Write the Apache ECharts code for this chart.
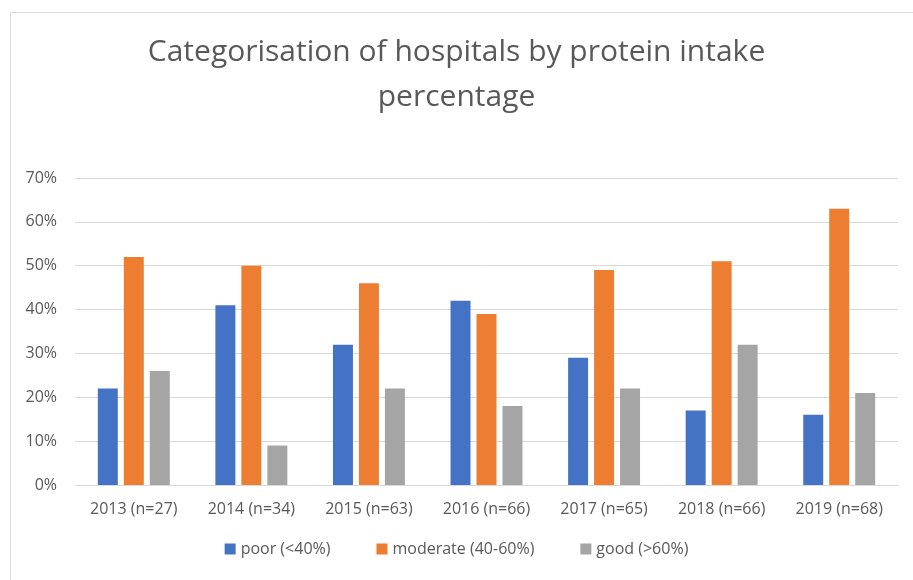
<!DOCTYPE html>
<html>
<head>
<meta charset="utf-8" />
<title>Categorisation of hospitals</title>
<script src="https://cdn.jsdelivr.net/npm/echarts@6/dist/echarts.min.js"></script>
</head>
<body style="margin:0;background:#fff;">
<div id="main" style="width:913px;height:580px;"></div>
<script>
var years = ['2013 (n=27)', '2014 (n=34)', '2015 (n=63)', '2016 (n=66)', '2017 (n=65)', '2018 (n=66)', '2019 (n=68)'];
var poor = [22, 41, 32, 42, 29, 17, 16];
var moderate = [52, 50, 46, 39, 49, 51, 63];
var good = [26, 9, 22, 18, 22, 32, 21];

var chart = echarts.init(document.getElementById('main'), null, { renderer: 'canvas' });
var txt = '#595959';
var option = {
  animation: false,
  graphic: [{
    type: 'rect', left: 8, top: 10,
    shape: { width: 920, height: 600 },
    style: { fill: 'none', stroke: '#d9d9d9', lineWidth: 1 }
  }],
  title: {
    text: 'Categorisation of hospitals by protein intake\npercentage',
    left: 'center', top: 25,
    textStyle: { color: txt, fontFamily: 'Open Sans', fontWeight: 'normal', fontSize: 30, lineHeight: 45 }
  },
  legend: {
    bottom: 18, left: 'center', itemWidth: 11, itemHeight: 11, itemGap: 46,
    icon: 'rect',
    textStyle: { color: txt, fontSize: 16, fontFamily: 'Open Sans' }
  },
  grid: { left: 75, right: 15, top: 178, bottom: 95, containLabel: false },
  xAxis: {
    type: 'category', data: years,
    axisTick: { show: false },
    axisLine: { lineStyle: { color: '#d9d9d9' } },
    axisLabel: { color: txt, fontSize: 16, fontFamily: 'Open Sans', margin: 16 }
  },
  yAxis: {
    type: 'value', min: 0, max: 70, interval: 10,
    axisLabel: { color: txt, fontSize: 16, fontFamily: 'Open Sans', formatter: '{value}%', margin: 18 },
    splitLine: { lineStyle: { color: '#d9d9d9' } },
    axisLine: { show: false }, axisTick: { show: false }
  },
  series: [
    { name: 'poor (<40%)', type: 'bar', data: poor, barWidth: '17%', barGap: '30%', itemStyle: { color: '#4472c4' } },
    { name: 'moderate (40-60%)', type: 'bar', data: moderate, barWidth: '17%', barGap: '30%', itemStyle: { color: '#ed7d31' } },
    { name: 'good (>60%)', type: 'bar', data: good, barWidth: '17%', barGap: '30%', itemStyle: { color: '#a5a5a5' } }
  ]
};
chart.setOption(option);
</script>
</body>
</html>
